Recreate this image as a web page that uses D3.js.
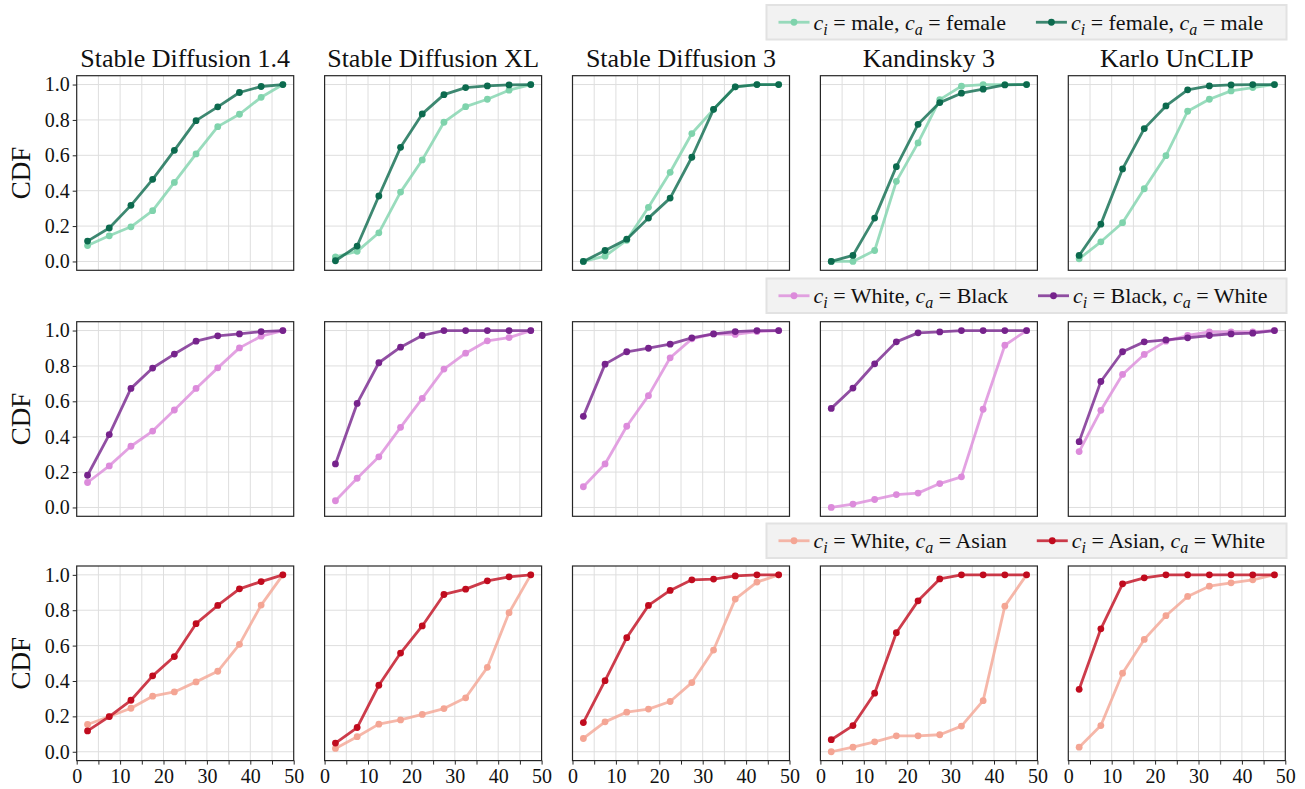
<!DOCTYPE html>
<html>
<head>
<meta charset="utf-8">
<script src="https://cdn.jsdelivr.net/npm/d3@7"></script>
<style>
  html, body { margin: 0; padding: 0; background: #fff; }
  svg text { font-family: "Liberation Serif", "Times New Roman", Times, "Nimbus Roman", "DejaVu Serif", serif; }
</style>
</head>
<body>
<svg id="chart" width="1305" height="789"></svg>
<script>
// ---------------- DATA ----------------
const bins = [2.5, 7.5, 12.5, 17.5, 22.5, 27.5, 32.5, 37.5, 42.5, 47.5];
const models = ["Stable Diffusion 1.4", "Stable Diffusion XL", "Stable Diffusion 3", "Kandinsky 3", "Karlo UnCLIP"];
const xTicks = [0, 10, 20, 30, 40, 50];
const xGrid = [5, 10, 15, 20, 25, 30, 35, 40, 45];
const yTicks = [0.0, 0.2, 0.4, 0.6, 0.8, 1.0];

// Row 1: gender
const maleToFemale = [
  [0.09, 0.145, 0.196, 0.287, 0.447, 0.608, 0.762, 0.832, 0.928, 1.0],
  [0.026, 0.057, 0.162, 0.392, 0.574, 0.787, 0.875, 0.917, 0.968, 1.0],
  [0.0, 0.03, 0.12, 0.306, 0.504, 0.723, 0.86, 0.987, 1.0, 1.0],
  [0.0, 0.0, 0.062, 0.453, 0.67, 0.915, 0.991, 1.0, 1.0, 1.0],
  [0.015, 0.111, 0.219, 0.411, 0.598, 0.849, 0.917, 0.964, 0.983, 1.0]
];
const femaleToMale = [
  [0.115, 0.189, 0.317, 0.464, 0.628, 0.796, 0.874, 0.955, 0.989, 1.0],
  [0.004, 0.087, 0.37, 0.645, 0.834, 0.943, 0.983, 0.992, 0.998, 1.0],
  [0.0, 0.062, 0.126, 0.245, 0.358, 0.589, 0.86, 0.987, 1.0, 1.0],
  [0.0, 0.034, 0.245, 0.536, 0.775, 0.898, 0.951, 0.974, 0.998, 1.0],
  [0.034, 0.211, 0.523, 0.751, 0.879, 0.97, 0.992, 0.998, 1.0, 1.0]
];
// Row 2: White / Black
const whiteToBlack = [
  [0.141, 0.235, 0.346, 0.432, 0.551, 0.673, 0.789, 0.902, 0.968, 1.0],
  [0.038, 0.165, 0.286, 0.453, 0.617, 0.782, 0.872, 0.942, 0.96, 1.0],
  [0.117, 0.246, 0.459, 0.632, 0.846, 0.953, 0.981, 0.978, 0.994, 1.0],
  [0.0, 0.019, 0.045, 0.073, 0.081, 0.135, 0.173, 0.555, 0.917, 1.0],
  [0.316, 0.549, 0.752, 0.865, 0.94, 0.972, 0.993, 0.993, 0.993, 1.0]
];
const blackToWhite = [
  [0.182, 0.412, 0.673, 0.788, 0.867, 0.94, 0.97, 0.981, 0.994, 1.0],
  [0.246, 0.588, 0.818, 0.906, 0.972, 1.0, 1.0, 1.0, 1.0, 1.0],
  [0.515, 0.81, 0.88, 0.9, 0.923, 0.959, 0.981, 0.994, 1.0, 1.0],
  [0.56, 0.675, 0.812, 0.936, 0.987, 0.992, 1.0, 1.0, 1.0, 1.0],
  [0.372, 0.712, 0.88, 0.936, 0.947, 0.959, 0.972, 0.981, 0.985, 1.0]
];
// Row 3: White / Asian
const whiteToAsian = [
  [0.154, 0.199, 0.246, 0.314, 0.338, 0.395, 0.455, 0.607, 0.829, 1.0],
  [0.019, 0.085, 0.156, 0.18, 0.211, 0.244, 0.305, 0.477, 0.786, 1.0],
  [0.075, 0.169, 0.224, 0.241, 0.284, 0.391, 0.575, 0.863, 0.959, 1.0],
  [0.0, 0.026, 0.056, 0.09, 0.09, 0.096, 0.145, 0.289, 0.823, 1.0],
  [0.026, 0.148, 0.444, 0.635, 0.769, 0.878, 0.936, 0.955, 0.972, 1.0]
];
const asianToWhite = [
  [0.118, 0.199, 0.291, 0.429, 0.538, 0.724, 0.827, 0.921, 0.962, 1.0],
  [0.049, 0.137, 0.376, 0.558, 0.711, 0.889, 0.919, 0.966, 0.989, 1.0],
  [0.165, 0.402, 0.645, 0.827, 0.912, 0.972, 0.976, 0.994, 1.0, 1.0],
  [0.068, 0.148, 0.331, 0.673, 0.853, 0.977, 1.0, 1.0, 1.0, 1.0],
  [0.353, 0.695, 0.949, 0.983, 1.0, 1.0, 1.0, 1.0, 1.0, 1.0]
];

const rowSeries = [
  [{ci: "male", ca: "female", values: maleToFemale, color: "#7fd3ac"},
   {ci: "female", ca: "male", values: femaleToMale, color: "#0c6a4e"}],
  [{ci: "White", ca: "Black", values: whiteToBlack, color: "#dc8bdb"},
   {ci: "Black", ca: "White", values: blackToWhite, color: "#76238c"}],
  [{ci: "White", ca: "Asian", values: whiteToAsian, color: "#f4a594"},
   {ci: "Asian", ca: "White", values: asianToWhite, color: "#c00b1e"}]
];

// ---------------- LAYOUT ----------------
const FONT = "'Liberation Serif', 'Times New Roman', Times, 'Nimbus Roman', 'DejaVu Serif', serif";
const svg = d3.select("#chart").attr("font-family", FONT);
const colLeft0 = 76.7, colStep = 247.9, panelW = 217;
const rowTops = [75.7, 321.7, 566];
const panelH = 194.6;
const legendBox = {left: 766.5, right: 1286.5, tops: [5, 278.5, 523.5], h: 34.5};

const x = d3.scaleLinear().domain([0, 50]).range([0, panelW]);
const y = d3.scaleLinear().domain([-0.05, 1.05]).range([panelH, 0]);

const line = d3.line().x((d, i) => x(bins[i])).y(d => y(d));

rowSeries.forEach((series, r) => {
  models.forEach((m, c) => {
    const g = svg.append("g")
      .attr("transform", `translate(${colLeft0 + c * colStep},${rowTops[r]})`);

    // grid
    g.selectAll("line.vg").data(xGrid).join("line")
      .attr("x1", d => x(d)).attr("x2", d => x(d))
      .attr("y1", 0).attr("y2", panelH)
      .attr("stroke", "#dedede").attr("stroke-width", 1);
    g.selectAll("line.hg").data(yTicks).join("line")
      .attr("x1", 0).attr("x2", panelW)
      .attr("y1", d => y(d)).attr("y2", d => y(d))
      .attr("stroke", "#dedede").attr("stroke-width", 1);

    // series
    series.forEach(s => {
      const vals = s.values[c];
      g.append("path").datum(vals)
        .attr("d", line)
        .attr("fill", "none")
        .attr("stroke", s.color)
        .attr("stroke-opacity", 0.8)
        .attr("stroke-width", 2.8)
        .attr("stroke-linejoin", "round");
      g.selectAll(null).data(vals).join("circle")
        .attr("cx", (d, i) => x(bins[i]))
        .attr("cy", d => y(d))
        .attr("r", 3.4)
        .attr("fill", s.color);
    });

    // frame
    g.append("rect")
      .attr("x", 0).attr("y", 0).attr("width", panelW).attr("height", panelH)
      .attr("fill", "none").attr("stroke", "#262626").attr("stroke-width", 1.2);

    // y axis on first column
    if (c === 0) {
      const ya = g.append("g").call(
        d3.axisLeft(y).tickValues(yTicks).tickFormat(d3.format(".1f")).tickSize(4).tickPadding(3)
      );
      ya.attr("font-family", FONT);
      ya.select(".domain").remove();
      ya.selectAll(".tick line").attr("stroke", "#262626").attr("stroke-width", 1);
      ya.selectAll(".tick text")
        .attr("font-family", FONT)
        .attr("font-size", 20).attr("fill", "#111");
    }
    // x axis on last row
    if (r === 2) {
      const xa = g.append("g").attr("transform", `translate(0,${panelH})`).call(
        d3.axisBottom(x).tickValues(d3.range(0, 51, 5)).tickFormat(d => d % 10 === 0 ? d : "").tickSize(4).tickPadding(4)
      );
      xa.attr("font-family", FONT);
      xa.select(".domain").remove();
      xa.selectAll(".tick line").attr("stroke", "#262626").attr("stroke-width", 1);
      xa.selectAll(".tick text")
        .attr("font-family", FONT)
        .attr("font-size", 20).attr("fill", "#111");
    }
    // titles on first row
    if (r === 0) {
      g.append("text")
        .attr("x", panelW / 2).attr("y", -9)
        .attr("text-anchor", "middle")
        .attr("font-family", FONT)
        .attr("font-size", 26).attr("fill", "#111")
        .text(m);
    }
  });

  // CDF label
  svg.append("text")
    .attr("transform", `translate(30,${rowTops[r] + panelH / 2}) rotate(-90)`)
    .attr("text-anchor", "middle")
    .attr("font-family", FONT)
    .attr("font-size", 27).attr("fill", "#111")
    .text("CDF");

  // legend
  const lg = svg.append("g");
  const top = legendBox.tops[r];
  lg.append("rect")
    .attr("x", legendBox.left).attr("y", top)
    .attr("width", legendBox.right - legendBox.left).attr("height", legendBox.h)
    .attr("fill", "#f2f2f2").attr("stroke", "#e2e2e2").attr("stroke-width", 2);
  let cx = legendBox.left + 12;
  const cy = top + legendBox.h / 2;
  series.forEach((s, k) => {
    lg.append("line")
      .attr("x1", cx).attr("x2", cx + 31).attr("y1", cy).attr("y2", cy)
      .attr("stroke", s.color).attr("stroke-opacity", 0.8).attr("stroke-width", 2.8);
    lg.append("circle").attr("cx", cx + 15.5).attr("cy", cy).attr("r", 3.4).attr("fill", s.color);
    cx += 35;
    const t = lg.append("text").attr("x", cx).attr("y", cy + 7.5)
      .attr("font-family", FONT)
      .attr("font-size", 22).attr("fill", "#111");
    t.append("tspan").attr("font-style", "italic").text("c");
    t.append("tspan").attr("font-style", "italic").attr("font-size", 16).attr("dy", 5).text("i");
    t.append("tspan").attr("dy", -5).text(`\u00A0= ${s.ci}, `);
    t.append("tspan").attr("font-style", "italic").text("c");
    t.append("tspan").attr("font-style", "italic").attr("font-size", 16).attr("dy", 5).text("a");
    t.append("tspan").attr("dy", -5).text(`\u00A0= ${s.ca}`);
    cx += t.node().getComputedTextLength() + 30;
  });
});
</script>
</body>
</html>
